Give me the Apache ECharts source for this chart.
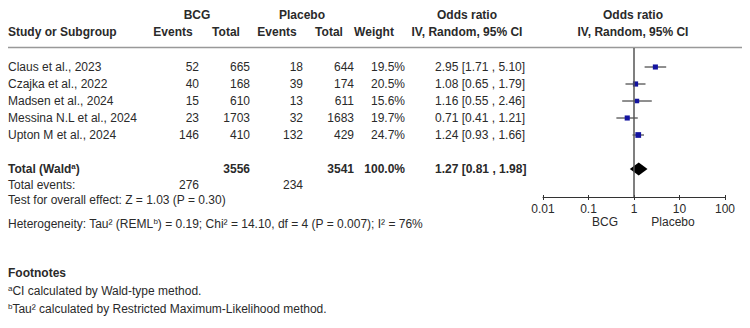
<!DOCTYPE html>
<html>
<head>
<meta charset="utf-8">
<script src="https://cdn.jsdelivr.net/npm/echarts@6/dist/echarts.min.js"></script>
<style>
  html, body { margin: 0; padding: 0; background: #fff; }
  #chart { width: 750px; height: 328px; }
</style>
</head>
<body>
<div id="chart"></div>
<script>
// study rows
const studies = [
  "Claus et al., 2023",
  "Czajka et al., 2022",
  "Madsen et al., 2024",
  "Messina N.L et al., 2024",
  "Upton M et al., 2024"
];
const bcgEvents = [52, 40, 15, 23, 146];
const bcgTotal = [665, 168, 610, 1703, 410];
const placeboEvents = [18, 39, 13, 32, 132];
const placeboTotal = [644, 174, 611, 1683, 429];
const weights = [19.5, 20.5, 15.6, 19.7, 24.7];
const oddsRatio = [2.95, 1.08, 1.16, 0.71, 1.24];
const ciLow = [1.71, 0.65, 0.55, 0.41, 0.93];
const ciHigh = [5.10, 1.79, 2.46, 1.21, 1.66];

// pooled: [or, lo, hi]
const pooled = [1.27, 0.81, 1.98];
const pooledTotals = [3556, 3541];
const totalEvents = [276, 234];
const totalRow = 6;

const xTicks = [0.01, 0.1, 1, 10, 100];

const FONT = '"Liberation Sans", Arial, sans-serif';
const TXT = "#2a2a2a";

const chart = echarts.init(document.getElementById("chart"), null, { renderer: "svg" });

function fmtCI(or, lo, hi) {
  return or.toFixed(2) + " [" + lo.toFixed(2) + " , " + hi.toFixed(2) + "]";
}

chart.setOption({
  animation: false,
  grid: { left: 543, right: 25, top: 48, bottom: 131 },
  xAxis: [
    {
      type: "log",
      logBase: 10,
      min: 0.01,
      max: 100,
      axisLine: { onZero: false, lineStyle: { color: "#333", width: 1 } },
      axisTick: { show: true, length: 3, lineStyle: { color: "#333" } },
      axisLabel: {
        fontSize: 12,
        fontFamily: FONT,
        color: TXT,
        margin: 6,
        formatter: (v) => {
          let best = xTicks[0];
          xTicks.forEach((t) => { if (Math.abs(Math.log10(t) - Math.log10(v)) < Math.abs(Math.log10(best) - Math.log10(v))) best = t; });
          return String(best);
        }
      },
      splitLine: { show: false }
    },
    {
      type: "log",
      logBase: 10,
      min: 0.01,
      max: 100,
      position: "bottom",
      axisLine: { show: false, onZero: false },
      axisTick: { show: true, inside: true, length: 2, lineStyle: { color: "#333" } },
      axisLabel: { show: false },
      splitLine: { show: false }
    }
  ],
  yAxis: {
    type: "value",
    inverse: true,
    min: -1.118,
    max: 7.647,
    show: false
  },
  series: [
    {
      type: "custom",
      renderItem: function (params, api) {
        const lo = api.coord([api.value(0), api.value(3)]);
        const hi = api.coord([api.value(1), api.value(3)]);
        const c = api.coord([api.value(2), api.value(3)]);
        const s = api.value(4);
        return {
          type: "group",
          children: [
            { type: "line", shape: { x1: lo[0], y1: lo[1], x2: hi[0], y2: hi[1] }, style: { stroke: "#6a6a6a", lineWidth: 1.5 } },
            { type: "rect", shape: { x: c[0] - s / 2, y: c[1] - s / 2, width: s, height: s }, style: { fill: "#1414a0" } }
          ]
        };
      },
      data: studies.map((s, i) => [ciLow[i], ciHigh[i], oddsRatio[i], i, Math.sqrt(weights[i]) * 1.15]),
      markLine: {
        silent: true,
        symbol: "none",
        label: { show: false },
        lineStyle: { color: "#555", width: 1.5, type: "solid" },
        data: [{ xAxis: 1 }]
      },
      z: 3
    },
    {
      type: "custom",
      renderItem: function (params, api) {
        const lo = api.coord([api.value(1), api.value(3)]);
        const hi = api.coord([api.value(2), api.value(3)]);
        const c = api.coord([api.value(0), api.value(3)]);
        const h = 6.5;
        return {
          type: "polygon",
          shape: { points: [[lo[0], c[1]], [c[0], c[1] - h], [hi[0], c[1]], [c[0], c[1] + h]] },
          style: { fill: "#000" }
        };
      },
      data: [[pooled[0], pooled[1], pooled[2], totalRow]],
      z: 4
    }
  ]
});

// table text, rows aligned to the plot's y axis
const rowY = (i) => chart.convertToPixel({ yAxisIndex: 0 }, i);
const supRich = {
  sup: { fontSize: 8, fontFamily: FONT, fill: TXT, verticalAlign: "top", lineHeight: 14 },
  supb: { fontSize: 8, fontWeight: "bold", fontFamily: FONT, fill: TXT, verticalAlign: "top", lineHeight: 14 },
  n: { fontSize: 12, fontFamily: FONT, fill: TXT, lineHeight: 14 },
  b: { fontSize: 12, fontWeight: "bold", fontFamily: FONT, fill: TXT, lineHeight: 14 }
};

function txt(text, x, y, align, bold) {
  return {
    type: "text",
    style: {
      text: text, x: x, y: y,
      align: align || "left",
      verticalAlign: "middle",
      font: (bold ? "bold " : "") + "12px " + FONT,
      fill: TXT
    }
  };
}
function rich(text, x, y) {
  return {
    type: "text",
    style: { text: text, x: x, y: y, align: "left", verticalAlign: "middle", rich: supRich, font: "12px " + FONT, fill: TXT }
  };
}

const g = [];
// headers
g.push(txt("BCG", 197, 15, "center", true));
g.push(txt("Placebo", 302, 15, "center", true));
g.push(txt("Odds ratio", 467, 15, "center", true));
g.push(txt("Odds ratio", 633, 15, "center", true));
g.push(txt("Study or Subgroup", 8, 32, "left", true));
g.push(txt("Events", 173, 32, "center", true));
g.push(txt("Total", 226, 32, "center", true));
g.push(txt("Events", 277, 32, "center", true));
g.push(txt("Total", 329, 32, "center", true));
g.push(txt("Weight", 374, 32, "center", true));
g.push(txt("IV, Random, 95% CI", 467, 32, "center", true));
g.push(txt("IV, Random, 95% CI", 633, 32, "center", true));
g.push({ type: "line", shape: { x1: 8, y1: 47.5, x2: 742, y2: 47.5 }, style: { stroke: "#999", lineWidth: 1.5 } });

studies.forEach((s, i) => {
  const y = rowY(i);
  g.push(txt(s, 8, y, "left"));
  g.push(txt(String(bcgEvents[i]), 199, y, "right"));
  g.push(txt(String(bcgTotal[i]), 250, y, "right"));
  g.push(txt(String(placeboEvents[i]), 303, y, "right"));
  g.push(txt(String(placeboTotal[i]), 354, y, "right"));
  g.push(txt(weights[i].toFixed(1) + "%", 405, y, "right"));
  g.push(txt(fmtCI(oddsRatio[i], ciLow[i], ciHigh[i]), 435, y, "left"));
});

const ty = rowY(totalRow);
g.push(rich("{b|Total (Wald}{supb|a}{b|)}", 8, ty));
g.push(txt(String(pooledTotals[0]), 250, ty, "right", true));
g.push(txt(String(pooledTotals[1]), 354, ty, "right", true));
g.push(txt("100.0%", 405, ty, "right", true));
g.push(txt(fmtCI(pooled[0], pooled[1], pooled[2]), 435, ty, "left", true));

g.push(txt("Total events:", 8, 185, "left"));
g.push(txt(String(totalEvents[0]), 199, 185, "right"));
g.push(txt(String(totalEvents[1]), 303, 185, "right"));
g.push(txt("Test for overall effect: Z = 1.03 (P = 0.30)", 8, 200, "left"));

g.push(txt("BCG", 605, 222, "center"));
g.push(txt("Placebo", 673, 222, "center"));

g.push(rich("{n|Heterogeneity: Tau² (REML}{sup|b}{n|) = 0.19; Chi² = 14.10, df = 4 (P = 0.007); I² = 76%}", 8, 224));
g.push(txt("Footnotes", 8, 273, "left", true));
g.push(rich("{sup|a}{n|CI calculated by Wald-type method.}", 8, 291));
g.push(rich("{sup|b}{n|Tau² calculated by Restricted Maximum-Likelihood method.}", 8, 309));

chart.setOption({ graphic: g });
</script>
</body>
</html>
